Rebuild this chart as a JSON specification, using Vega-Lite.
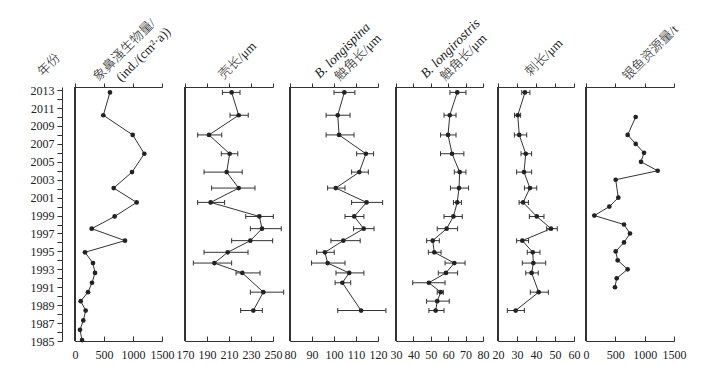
{
  "$schema": "https://vega.github.io/schema/vega-lite/v6.json",
  "background": "white",
  "padding": {"left": 30, "top": 15, "right": 5, "bottom": 3},
  "config": {"view": {"stroke": null}, "axis": {"grid": false}},
  "datasets": {
    "d": [
      {"p":"p1","year":2012.75,"v":603},{"p":"p1","year":2010.2,"v":488},{"p":"p1","year":2008.0,"v":995},{"p":"p1","year":2005.9,"v":1195},{"p":"p1","year":2003.85,"v":983},{"p":"p1","year":2002.07,"v":667},{"p":"p1","year":2000.47,"v":1063},{"p":"p1","year":1998.9,"v":684},{"p":"p1","year":1997.54,"v":288},{"p":"p1","year":1996.2,"v":862},{"p":"p1","year":1994.9,"v":172},{"p":"p1","year":1993.7,"v":310},{"p":"p1","year":1992.6,"v":345},{"p":"p1","year":1991.5,"v":293},{"p":"p1","year":1990.45,"v":224},{"p":"p1","year":1989.45,"v":98},{"p":"p1","year":1988.4,"v":184},{"p":"p1","year":1987.3,"v":143},{"p":"p1","year":1986.25,"v":86},{"p":"p1","year":1985.1,"v":121},
      {"p":"p2","year":2012.75,"v":212.4,"lo":204,"hi":220},{"p":"p2","year":2010.2,"v":218.8,"lo":210.9,"hi":227.5},{"p":"p2","year":2008.0,"v":191.8,"lo":181.5,"hi":203.4},{"p":"p2","year":2005.9,"v":210.6,"lo":203,"hi":218},{"p":"p2","year":2003.85,"v":207.9,"lo":187.3,"hi":222},{"p":"p2","year":2002.07,"v":218.8,"lo":194.2,"hi":233.6},{"p":"p2","year":2000.47,"v":193.3,"lo":181.5,"hi":206},{"p":"p2","year":1998.9,"v":237.6,"lo":225.2,"hi":250.3},{"p":"p2","year":1997.54,"v":240,"lo":229.4,"hi":257.5},{"p":"p2","year":1996.2,"v":229.4,"lo":212.4,"hi":249.7},{"p":"p2","year":1994.9,"v":208.8,"lo":187.3,"hi":227.3},{"p":"p2","year":1993.7,"v":196.7,"lo":177.6,"hi":212.4},{"p":"p2","year":1992.6,"v":222.1,"lo":216.4,"hi":238.2},{"p":"p2","year":1990.45,"v":241.2,"lo":229.4,"hi":259.7},{"p":"p2","year":1988.4,"v":232.1,"lo":220.6,"hi":240.3},
      {"p":"p3","year":2012.75,"v":104.7,"lo":100,"hi":109.5},{"p":"p3","year":2010.2,"v":101.7,"lo":96.4,"hi":107.3},{"p":"p3","year":2008.0,"v":102.3,"lo":96.4,"hi":109.1},{"p":"p3","year":2005.9,"v":114.5,"lo":110.3,"hi":118},{"p":"p3","year":2003.85,"v":111.5,"lo":108,"hi":115.6},{"p":"p3","year":2002.07,"v":100.8,"lo":97.1,"hi":105},{"p":"p3","year":2000.47,"v":114.8,"lo":108,"hi":122.1},{"p":"p3","year":1998.9,"v":109.2,"lo":105,"hi":113.6},{"p":"p3","year":1997.54,"v":113.5,"lo":108.9,"hi":118.2},{"p":"p3","year":1996.2,"v":104.2,"lo":98.6,"hi":111.9},{"p":"p3","year":1994.9,"v":95.9,"lo":92.1,"hi":100.1},{"p":"p3","year":1993.7,"v":97.1,"lo":89.8,"hi":105},{"p":"p3","year":1992.6,"v":106.9,"lo":100.9,"hi":113.6},{"p":"p3","year":1991.5,"v":103.8,"lo":100.5,"hi":107.6},{"p":"p3","year":1988.4,"v":112.3,"lo":101.7,"hi":123.6},
      {"p":"p4","year":2012.75,"v":65.2,"lo":61,"hi":70.2},{"p":"p4","year":2010.2,"v":60.9,"lo":57.6,"hi":64.5},{"p":"p4","year":2008.0,"v":59.9,"lo":55.6,"hi":64.5},{"p":"p4","year":2005.9,"v":62.2,"lo":55.6,"hi":69},{"p":"p4","year":2003.85,"v":66.6,"lo":63.5,"hi":70.2},{"p":"p4","year":2002.07,"v":66.2,"lo":61.3,"hi":71.7},{"p":"p4","year":2000.47,"v":65.2,"lo":63,"hi":67.6},{"p":"p4","year":1998.9,"v":63,"lo":57.6,"hi":68.1},{"p":"p4","year":1997.54,"v":59.1,"lo":53.7,"hi":65.4},{"p":"p4","year":1996.2,"v":51.1,"lo":47.6,"hi":54.9},{"p":"p4","year":1994.9,"v":52,"lo":48.6,"hi":55.9},{"p":"p4","year":1993.7,"v":63.5,"lo":58.2,"hi":69.7},{"p":"p4","year":1992.6,"v":58.7,"lo":54.3,"hi":65.4},{"p":"p4","year":1991.5,"v":48.9,"lo":39.6,"hi":58.2},{"p":"p4","year":1990.45,"v":55.7,"lo":53.7,"hi":57.2},{"p":"p4","year":1989.45,"v":53.7,"lo":47.6,"hi":60.6},{"p":"p4","year":1988.4,"v":52.8,"lo":48.9,"hi":57.6},
      {"p":"p5","year":2012.75,"v":34.2,"lo":32.5,"hi":36.8},{"p":"p5","year":2010.2,"v":30.4,"lo":28.7,"hi":31.9},{"p":"p5","year":2008.0,"v":31.2,"lo":28.6,"hi":35.1},{"p":"p5","year":2005.9,"v":34.6,"lo":32.1,"hi":37.7},{"p":"p5","year":2003.85,"v":33.7,"lo":29.8,"hi":37.7},{"p":"p5","year":2002.07,"v":36.8,"lo":33.9,"hi":40.4},{"p":"p5","year":2000.47,"v":33.2,"lo":31.1,"hi":36},{"p":"p5","year":1998.9,"v":40.4,"lo":36.5,"hi":44.2},{"p":"p5","year":1997.54,"v":47.9,"lo":45.6,"hi":51.2},{"p":"p5","year":1996.2,"v":32.8,"lo":29.8,"hi":36.1},{"p":"p5","year":1994.9,"v":38.3,"lo":35.4,"hi":42.1},{"p":"p5","year":1993.7,"v":38.6,"lo":32.8,"hi":45.1},{"p":"p5","year":1992.6,"v":37.7,"lo":34.6,"hi":41.2},{"p":"p5","year":1990.45,"v":41.4,"lo":37,"hi":46.5},{"p":"p5","year":1988.4,"v":29.3,"lo":24.9,"hi":33.9},
      {"p":"p6","year":2010,"v":847},{"p":"p6","year":2008,"v":710},{"p":"p6","year":2007,"v":847},{"p":"p6","year":2006,"v":989},{"p":"p6","year":2005,"v":938},{"p":"p6","year":2004,"v":1222},{"p":"p6","year":2003,"v":506},{"p":"p6","year":2001,"v":551},{"p":"p6","year":2000,"v":398},{"p":"p6","year":1999,"v":142},{"p":"p6","year":1998,"v":648},{"p":"p6","year":1997,"v":750},{"p":"p6","year":1996,"v":648},{"p":"p6","year":1995,"v":506},{"p":"p6","year":1994,"v":540},{"p":"p6","year":1993,"v":710},{"p":"p6","year":1992,"v":523},{"p":"p6","year":1991,"v":494}
    ]
  },
  "hconcat": [
    {
      "width": 87, "height": 254,
      "data": {"name": "d"},
      "transform": [{"filter": "datum.p == 'p1'"}],
      "resolve": {"axis": {"x": "independent", "y": "independent"}},
      "layer": [
        {"mark": {"type": "rule", "color": "#333", "strokeWidth": 1}, "encoding": {"x": {"datum": 0, "type": "quantitative", "scale": {"domain": [0, 1500], "nice": false, "zero": false}, "axis": null}}},
        {"mark": {"type": "line", "color": "#333", "strokeWidth": 1}, "encoding": {
          "x": {"field": "v", "type": "quantitative", "scale": {"domain": [0, 1500], "nice": false, "zero": false},
            "axis": {"orient": "bottom", "values": [0, 500, 1000, 1500], "format": "d", "tickSize": -5, "labelPadding": 13, "labelFont": "Liberation Serif", "labelFontSize": 12, "labelColor": "#222", "labelOverlap": false, "labelFlush": false, "labelBound": false, "domainColor": "#333", "tickColor": "#333",
              "title": "象鼻溞生物量/", "titleAngle": -45, "titleAlign": "center", "titleBaseline": "middle", "titleX": 49, "titleY": -291.5, "titleFont": "Liberation Serif, Noto Sans CJK SC", "titleFontSize": 13, "titleFontWeight": 300, "titleColor": "#222"}},
          "y": {"field": "year", "type": "quantitative", "scale": {"domain": [1985, 2013.35], "nice": false, "zero": false},
            "axis": {"orient": "left", "offset": 13, "values": [1985,1986,1987,1988,1989,1990,1991,1992,1993,1994,1995,1996,1997,1998,1999,2000,2001,2002,2003,2004,2005,2006,2007,2008,2009,2010,2011,2012,2013], "format": "d", "labelExpr": "datum.value % 2 == 1 ? datum.label : ''", "labelOverlap": false, "tickSize": 5, "labelPadding": 3, "labelFont": "Liberation Serif", "labelFontSize": 12, "labelColor": "#222", "domainColor": "#333", "tickColor": "#333",
              "title": "年份", "titleAngle": -45, "titleAlign": "center", "titleBaseline": "middle", "titleX": -13.5, "titleY": -22.5, "titleFont": "Liberation Serif, Noto Sans CJK SC", "titleFontSize": 13, "titleFontWeight": 300, "titleColor": "#222"}},
          "order": {"field": "year", "type": "quantitative"}}},
        {"mark": {"type": "point", "filled": true, "color": "#222", "size": 22, "opacity": 1}, "encoding": {
          "x": {"field": "v", "type": "quantitative", "scale": {"domain": [0, 1500], "nice": false, "zero": false},
            "axis": {"orient": "top", "values": [0, 500, 1000, 1500], "labels": false, "tickSize": 4, "domainColor": "#333", "tickColor": "#333",
              "title": "(ind./(cm²·a))", "titleAngle": -45, "titleAlign": "center", "titleBaseline": "middle", "titleX": 68, "titleY": -33, "titleFont": "Liberation Serif, Noto Sans CJK SC", "titleFontSize": 13, "titleFontWeight": 300, "titleColor": "#222"}},
          "y": {"field": "year", "type": "quantitative", "scale": {"domain": [1985, 2013.35], "nice": false, "zero": false}, "axis": null}}}
      ]
    },
    {
      "width": 99, "height": 254,
      "data": {"name": "d"},
      "transform": [{"filter": "datum.p == 'p2'"}],
      "resolve": {"axis": {"x": "independent", "y": "independent"}},
      "layer": [
        {"mark": {"type": "rule", "color": "#333", "strokeWidth": 1}, "encoding": {"x": {"datum": 170, "type": "quantitative", "scale": {"domain": [170, 250], "range": [11, 99], "nice": false, "zero": false}, "axis": null}}},
        {"mark": {"type": "rule", "color": "#333", "strokeWidth": 1}, "encoding": {"x": {"field": "lo", "type": "quantitative", "scale": {"domain": [170, 250], "range": [11, 99], "nice": false, "zero": false}, "axis": null}, "x2": {"field": "hi"}, "y": {"field": "year", "type": "quantitative", "scale": {"domain": [1985, 2013.35], "nice": false, "zero": false}, "axis": null}}},
        {"mark": {"type": "tick", "orient": "vertical", "size": 5, "thickness": 1, "color": "#333", "opacity": 1}, "encoding": {"x": {"field": "lo", "type": "quantitative", "scale": {"domain": [170, 250], "range": [11, 99], "nice": false, "zero": false}, "axis": null}, "y": {"field": "year", "type": "quantitative", "scale": {"domain": [1985, 2013.35], "nice": false, "zero": false}, "axis": null}}},
        {"mark": {"type": "tick", "orient": "vertical", "size": 5, "thickness": 1, "color": "#333", "opacity": 1}, "encoding": {"x": {"field": "hi", "type": "quantitative", "scale": {"domain": [170, 250], "range": [11, 99], "nice": false, "zero": false}, "axis": null}, "y": {"field": "year", "type": "quantitative", "scale": {"domain": [1985, 2013.35], "nice": false, "zero": false}, "axis": null}}},
        {"mark": {"type": "line", "color": "#333", "strokeWidth": 1}, "encoding": {
          "x": {"field": "v", "type": "quantitative", "scale": {"domain": [170, 250], "range": [11, 99], "nice": false, "zero": false},
            "axis": {"orient": "bottom", "values": [170, 190, 210, 230, 250], "format": "d", "tickSize": -5, "labelPadding": 13, "labelFont": "Liberation Serif", "labelFontSize": 12, "labelColor": "#222", "labelOverlap": false, "labelFlush": false, "labelBound": false, "domainColor": "#333", "tickColor": "#333", "title": null}},
          "y": {"field": "year", "type": "quantitative", "scale": {"domain": [1985, 2013.35], "nice": false, "zero": false}, "axis": null},
          "order": {"field": "year", "type": "quantitative"}}},
        {"mark": {"type": "point", "filled": true, "color": "#222", "size": 22, "opacity": 1}, "encoding": {
          "x": {"field": "v", "type": "quantitative", "scale": {"domain": [170, 250], "range": [11, 99], "nice": false, "zero": false},
            "axis": {"orient": "top", "values": [170, 190, 210, 230, 250], "labels": false, "tickSize": 4, "domainColor": "#333", "tickColor": "#333",
              "title": "壳长/μm", "titleAngle": -45, "titleAlign": "center", "titleBaseline": "middle", "titleX": 63, "titleY": -27, "titleFont": "Liberation Serif, Noto Sans CJK SC", "titleFontSize": 13, "titleFontWeight": 300, "titleColor": "#222"}},
          "y": {"field": "year", "type": "quantitative", "scale": {"domain": [1985, 2013.35], "nice": false, "zero": false}, "axis": null}}}
      ]
    },
    {
      "width": 93, "height": 254,
      "data": {"name": "d"},
      "transform": [{"filter": "datum.p == 'p3'"}],
      "resolve": {"axis": {"x": "independent", "y": "independent"}},
      "layer": [
        {"mark": {"type": "rule", "color": "#333", "strokeWidth": 1}, "encoding": {"x": {"datum": 80, "type": "quantitative", "scale": {"domain": [80, 120], "range": [5, 93], "nice": false, "zero": false}, "axis": null}}},
        {"mark": {"type": "rule", "color": "#333", "strokeWidth": 1}, "encoding": {"x": {"field": "lo", "type": "quantitative", "scale": {"domain": [80, 120], "range": [5, 93], "nice": false, "zero": false}, "axis": null}, "x2": {"field": "hi"}, "y": {"field": "year", "type": "quantitative", "scale": {"domain": [1985, 2013.35], "nice": false, "zero": false}, "axis": null}}},
        {"mark": {"type": "tick", "orient": "vertical", "size": 5, "thickness": 1, "color": "#333", "opacity": 1}, "encoding": {"x": {"field": "lo", "type": "quantitative", "scale": {"domain": [80, 120], "range": [5, 93], "nice": false, "zero": false}, "axis": null}, "y": {"field": "year", "type": "quantitative", "scale": {"domain": [1985, 2013.35], "nice": false, "zero": false}, "axis": null}}},
        {"mark": {"type": "tick", "orient": "vertical", "size": 5, "thickness": 1, "color": "#333", "opacity": 1}, "encoding": {"x": {"field": "hi", "type": "quantitative", "scale": {"domain": [80, 120], "range": [5, 93], "nice": false, "zero": false}, "axis": null}, "y": {"field": "year", "type": "quantitative", "scale": {"domain": [1985, 2013.35], "nice": false, "zero": false}, "axis": null}}},
        {"mark": {"type": "line", "color": "#333", "strokeWidth": 1}, "encoding": {
          "x": {"field": "v", "type": "quantitative", "scale": {"domain": [80, 120], "range": [5, 93], "nice": false, "zero": false},
            "axis": {"orient": "bottom", "values": [80, 90, 100, 110, 120], "format": "d", "tickSize": -5, "labelPadding": 13, "labelFont": "Liberation Serif", "labelFontSize": 12, "labelColor": "#222", "labelOverlap": false, "labelFlush": false, "labelBound": false, "domainColor": "#333", "tickColor": "#333",
              "title": "B. longispina", "titleAngle": -45, "titleAlign": "center", "titleBaseline": "middle", "titleX": 57, "titleY": -291, "titleFont": "Liberation Serif, Noto Sans CJK SC", "titleFontSize": 13.5, "titleFontWeight": "normal", "titleFontStyle": "italic", "titleColor": "#222"}},
          "y": {"field": "year", "type": "quantitative", "scale": {"domain": [1985, 2013.35], "nice": false, "zero": false}, "axis": null},
          "order": {"field": "year", "type": "quantitative"}}},
        {"mark": {"type": "point", "filled": true, "color": "#222", "size": 22, "opacity": 1}, "encoding": {
          "x": {"field": "v", "type": "quantitative", "scale": {"domain": [80, 120], "range": [5, 93], "nice": false, "zero": false},
            "axis": {"orient": "top", "values": [80, 90, 100, 110, 120], "labels": false, "tickSize": 4, "domainColor": "#333", "tickColor": "#333",
              "title": "触角长/μm", "titleAngle": -45, "titleAlign": "center", "titleBaseline": "middle", "titleX": 72.5, "titleY": -30, "titleFont": "Liberation Serif, Noto Sans CJK SC", "titleFontSize": 13, "titleFontWeight": 300, "titleColor": "#222"}},
          "y": {"field": "year", "type": "quantitative", "scale": {"domain": [1985, 2013.35], "nice": false, "zero": false}, "axis": null}}}
      ]
    },
    {
      "width": 93, "height": 254,
      "data": {"name": "d"},
      "transform": [{"filter": "datum.p == 'p4'"}],
      "resolve": {"axis": {"x": "independent", "y": "independent"}},
      "layer": [
        {"mark": {"type": "rule", "color": "#333", "strokeWidth": 1}, "encoding": {"x": {"datum": 30, "type": "quantitative", "scale": {"domain": [30, 80], "range": [6, 93], "nice": false, "zero": false}, "axis": null}}},
        {"mark": {"type": "rule", "color": "#333", "strokeWidth": 1}, "encoding": {"x": {"field": "lo", "type": "quantitative", "scale": {"domain": [30, 80], "range": [6, 93], "nice": false, "zero": false}, "axis": null}, "x2": {"field": "hi"}, "y": {"field": "year", "type": "quantitative", "scale": {"domain": [1985, 2013.35], "nice": false, "zero": false}, "axis": null}}},
        {"mark": {"type": "tick", "orient": "vertical", "size": 5, "thickness": 1, "color": "#333", "opacity": 1}, "encoding": {"x": {"field": "lo", "type": "quantitative", "scale": {"domain": [30, 80], "range": [6, 93], "nice": false, "zero": false}, "axis": null}, "y": {"field": "year", "type": "quantitative", "scale": {"domain": [1985, 2013.35], "nice": false, "zero": false}, "axis": null}}},
        {"mark": {"type": "tick", "orient": "vertical", "size": 5, "thickness": 1, "color": "#333", "opacity": 1}, "encoding": {"x": {"field": "hi", "type": "quantitative", "scale": {"domain": [30, 80], "range": [6, 93], "nice": false, "zero": false}, "axis": null}, "y": {"field": "year", "type": "quantitative", "scale": {"domain": [1985, 2013.35], "nice": false, "zero": false}, "axis": null}}},
        {"mark": {"type": "line", "color": "#333", "strokeWidth": 1}, "encoding": {
          "x": {"field": "v", "type": "quantitative", "scale": {"domain": [30, 80], "range": [6, 93], "nice": false, "zero": false},
            "axis": {"orient": "bottom", "values": [30, 40, 50, 60, 70, 80], "format": "d", "tickSize": -5, "labelPadding": 13, "labelFont": "Liberation Serif", "labelFontSize": 12, "labelColor": "#222", "labelOverlap": false, "labelFlush": false, "labelBound": false, "domainColor": "#333", "tickColor": "#333",
              "title": "B. longirostris", "titleAngle": -45, "titleAlign": "center", "titleBaseline": "middle", "titleX": 60, "titleY": -293, "titleFont": "Liberation Serif, Noto Sans CJK SC", "titleFontSize": 13.5, "titleFontWeight": "normal", "titleFontStyle": "italic", "titleColor": "#222"}},
          "y": {"field": "year", "type": "quantitative", "scale": {"domain": [1985, 2013.35], "nice": false, "zero": false}, "axis": null},
          "order": {"field": "year", "type": "quantitative"}}},
        {"mark": {"type": "point", "filled": true, "color": "#222", "size": 22, "opacity": 1}, "encoding": {
          "x": {"field": "v", "type": "quantitative", "scale": {"domain": [30, 80], "range": [6, 93], "nice": false, "zero": false},
            "axis": {"orient": "top", "values": [30, 40, 50, 60, 70, 80], "labels": false, "tickSize": 4, "domainColor": "#333", "tickColor": "#333",
              "title": "触角长/μm", "titleAngle": -45, "titleAlign": "center", "titleBaseline": "middle", "titleX": 73, "titleY": -30, "titleFont": "Liberation Serif, Noto Sans CJK SC", "titleFontSize": 13, "titleFontWeight": 300, "titleColor": "#222"}},
          "y": {"field": "year", "type": "quantitative", "scale": {"domain": [1985, 2013.35], "nice": false, "zero": false}, "axis": null}}}
      ]
    },
    {
      "width": 79, "height": 254,
      "data": {"name": "d"},
      "transform": [{"filter": "datum.p == 'p5'"}],
      "resolve": {"axis": {"x": "independent", "y": "independent"}},
      "layer": [
        {"mark": {"type": "rule", "color": "#333", "strokeWidth": 1}, "encoding": {"x": {"datum": 20, "type": "quantitative", "scale": {"domain": [20, 60], "range": [3, 79], "nice": false, "zero": false}, "axis": null}}},
        {"mark": {"type": "rule", "color": "#333", "strokeWidth": 1}, "encoding": {"x": {"field": "lo", "type": "quantitative", "scale": {"domain": [20, 60], "range": [3, 79], "nice": false, "zero": false}, "axis": null}, "x2": {"field": "hi"}, "y": {"field": "year", "type": "quantitative", "scale": {"domain": [1985, 2013.35], "nice": false, "zero": false}, "axis": null}}},
        {"mark": {"type": "tick", "orient": "vertical", "size": 5, "thickness": 1, "color": "#333", "opacity": 1}, "encoding": {"x": {"field": "lo", "type": "quantitative", "scale": {"domain": [20, 60], "range": [3, 79], "nice": false, "zero": false}, "axis": null}, "y": {"field": "year", "type": "quantitative", "scale": {"domain": [1985, 2013.35], "nice": false, "zero": false}, "axis": null}}},
        {"mark": {"type": "tick", "orient": "vertical", "size": 5, "thickness": 1, "color": "#333", "opacity": 1}, "encoding": {"x": {"field": "hi", "type": "quantitative", "scale": {"domain": [20, 60], "range": [3, 79], "nice": false, "zero": false}, "axis": null}, "y": {"field": "year", "type": "quantitative", "scale": {"domain": [1985, 2013.35], "nice": false, "zero": false}, "axis": null}}},
        {"mark": {"type": "line", "color": "#333", "strokeWidth": 1}, "encoding": {
          "x": {"field": "v", "type": "quantitative", "scale": {"domain": [20, 60], "range": [3, 79], "nice": false, "zero": false},
            "axis": {"orient": "bottom", "values": [20, 30, 40, 50, 60], "format": "d", "tickSize": -5, "labelPadding": 13, "labelFont": "Liberation Serif", "labelFontSize": 12, "labelColor": "#222", "labelOverlap": false, "labelFlush": false, "labelBound": false, "domainColor": "#333", "tickColor": "#333", "title": null}},
          "y": {"field": "year", "type": "quantitative", "scale": {"domain": [1985, 2013.35], "nice": false, "zero": false}, "axis": null},
          "order": {"field": "year", "type": "quantitative"}}},
        {"mark": {"type": "point", "filled": true, "color": "#222", "size": 22, "opacity": 1}, "encoding": {
          "x": {"field": "v", "type": "quantitative", "scale": {"domain": [20, 60], "range": [3, 79], "nice": false, "zero": false},
            "axis": {"orient": "top", "values": [20, 30, 40, 50, 60], "labels": false, "tickSize": 4, "domainColor": "#333", "tickColor": "#333",
              "title": "刺长/μm", "titleAngle": -45, "titleAlign": "center", "titleBaseline": "middle", "titleX": 48.5, "titleY": -30, "titleFont": "Liberation Serif, Noto Sans CJK SC", "titleFontSize": 13, "titleFontWeight": 300, "titleColor": "#222"}},
          "y": {"field": "year", "type": "quantitative", "scale": {"domain": [1985, 2013.35], "nice": false, "zero": false}, "axis": null}}}
      ]
    },
    {
      "width": 88, "height": 254,
      "data": {"name": "d"},
      "transform": [{"filter": "datum.p == 'p6'"}],
      "resolve": {"axis": {"x": "independent", "y": "independent"}},
      "layer": [
        {"mark": {"type": "rule", "color": "#333", "strokeWidth": 1}, "encoding": {"x": {"datum": 0, "type": "quantitative", "scale": {"domain": [0, 1500], "nice": false, "zero": false}, "axis": null}}},
        {"mark": {"type": "line", "color": "#333", "strokeWidth": 1}, "encoding": {
          "x": {"field": "v", "type": "quantitative", "scale": {"domain": [0, 1500], "nice": false, "zero": false},
            "axis": {"orient": "bottom", "values": [0, 500, 1000, 1500], "format": "d", "tickSize": -5, "labelPadding": 13, "labelFont": "Liberation Serif", "labelFontSize": 12, "labelColor": "#222", "labelOverlap": false, "labelFlush": false, "labelBound": false, "domainColor": "#333", "tickColor": "#333", "title": null}},
          "y": {"field": "year", "type": "quantitative", "scale": {"domain": [1985, 2013.35], "nice": false, "zero": false}, "axis": null},
          "order": {"field": "year", "type": "quantitative"}}},
        {"mark": {"type": "point", "filled": true, "color": "#222", "size": 22, "opacity": 1}, "encoding": {
          "x": {"field": "v", "type": "quantitative", "scale": {"domain": [0, 1500], "nice": false, "zero": false},
            "axis": {"orient": "top", "values": [0, 500, 1000, 1500], "labels": false, "tickSize": 4, "domainColor": "#333", "tickColor": "#333",
              "title": "银鱼资源量/t", "titleAngle": -45, "titleAlign": "center", "titleBaseline": "middle", "titleX": 64, "titleY": -34.5, "titleFont": "Liberation Serif, Noto Sans CJK SC", "titleFontSize": 13, "titleFontWeight": 300, "titleColor": "#222"}},
          "y": {"field": "year", "type": "quantitative", "scale": {"domain": [1985, 2013.35], "nice": false, "zero": false}, "axis": null}}}
      ]
    }
  ],
  "spacing": 12,
  "bounds": "flush"
}
